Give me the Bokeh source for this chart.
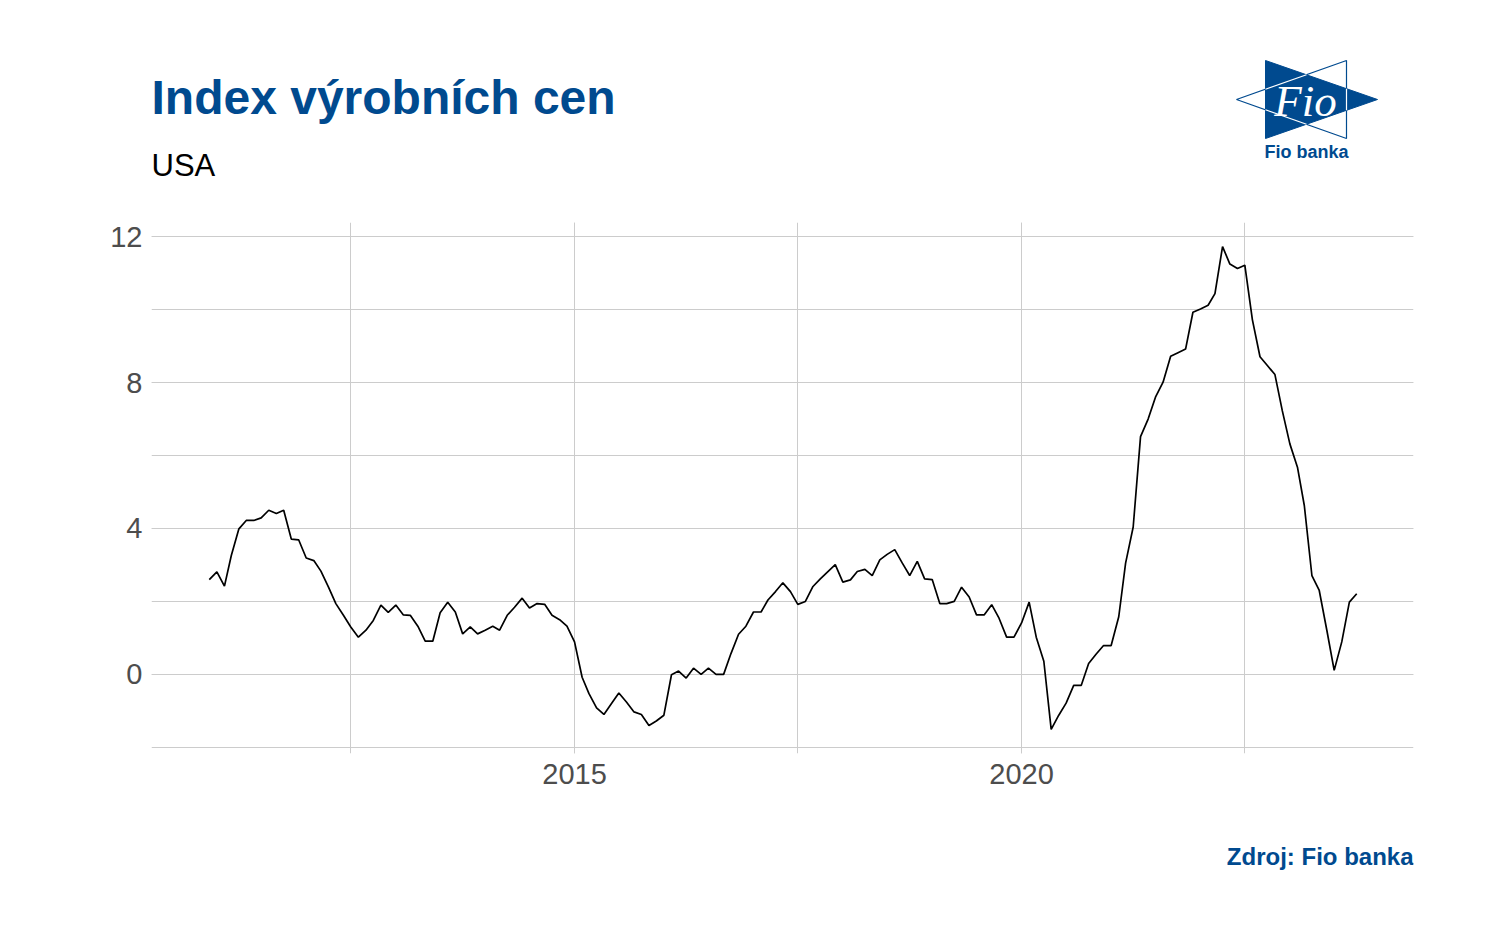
import pandas as pd
from datetime import datetime
from bokeh.plotting import figure
from bokeh.layouts import column
from bokeh.models import ColumnDataSource, Range1d, FixedTicker, DatetimeTickFormatter
from bokeh.core.properties import value
from bokeh.embed import file_html
from bokeh.resources import INLINE

# ---------------- data ----------------
start_month = "2010-12-01"
ppi = [2.60, 2.81, 2.42, 3.26, 3.99, 4.22, 4.22, 4.29, 4.50, 4.41, 4.50, 3.71, 3.69, 3.19, 3.12, 2.83,
       2.39, 1.94, 1.62, 1.30, 1.02, 1.21, 1.48, 1.90, 1.70, 1.90, 1.63, 1.62, 1.32, 0.91, 0.91, 1.69,
       1.98, 1.71, 1.11, 1.30, 1.11, 1.21, 1.32, 1.21, 1.62, 1.84, 2.09, 1.82, 1.94, 1.92, 1.62, 1.50,
       1.32, 0.89, -0.08, -0.53, -0.92, -1.10, -0.80, -0.51, -0.76, -1.03, -1.10, -1.40, -1.28, -1.12,
       -0.01, 0.09, -0.10, 0.17, 0.00, 0.17, 0.00, 0.00, 0.57, 1.10, 1.32, 1.71, 1.71, 2.04, 2.27, 2.51,
       2.27, 1.92, 2.00, 2.41, 2.62, 2.82, 3.01, 2.53, 2.59, 2.82, 2.88, 2.71, 3.14, 3.29, 3.42, 3.05,
       2.71, 3.10, 2.62, 2.60, 1.94, 1.94, 2.00, 2.39, 2.12, 1.63, 1.63, 1.91, 1.54, 1.02, 1.02, 1.41,
       1.98, 1.02, 0.36, -1.51, -1.12, -0.79, -0.30, -0.30, 0.30, 0.56, 0.79, 0.79, 1.58, 3.05, 4.04,
       6.52, 7.00, 7.60, 8.01, 8.72, 8.82, 8.92, 9.93, 10.02, 10.12, 10.44, 11.73, 11.25, 11.13, 11.22,
       9.72, 8.71, 8.47, 8.22, 7.23, 6.32, 5.68, 4.63, 2.71, 2.30, 1.21, 0.11, 0.89, 1.98, 2.21]
dates = pd.date_range(start_month, periods=len(ppi), freq="MS")

y_major = [0, 4, 8, 12]
y_minor = [-2, 0, 2, 4, 6, 8, 10, 12]
x_major_labels = ["2015-01-01", "2020-01-01"]
x_minor = ["2012-07-01", "2015-01-01", "2017-07-01", "2020-01-01", "2022-07-01"]

title_text = "Index výrobních cen"
subtitle_text = "USA"
source_text = "Zdroj: Fio banka"
logo_text = "Fio"
logo_caption = "Fio banka"

BLUE = "#004A8F"
GRID = "#CCCCCC"
W = 1478
HEAD_H, MAIN_H, FOOT_H = 200, 620, 114
FRAME_L, FRAME_R = 151, 1413


def ms(d):
    return pd.Timestamp(d).value // 10**6


def bl(y, size):
    # place the alphabetic baseline at page y
    return y - 0.38 * size


def blank(h):
    f = figure(width=W, height=h, output_backend="svg", toolbar_location=None,
               x_range=Range1d(FRAME_L, FRAME_R), y_range=Range1d(h, 0),
               min_border=0, min_border_left=FRAME_L, min_border_right=W - FRAME_R,
               min_border_top=0, min_border_bottom=0)
    f.axis.visible = False
    f.grid.visible = False
    f.outline_line_color = None
    f.background_fill_color = "white"
    f.border_fill_color = "white"
    return f


# ---------------- header ----------------
head = blank(HEAD_H)
head.text(x=[151], y=[bl(115, 48)], text=[title_text], text_font=value("Liberation Sans"),
          text_font_style="bold", text_font_size="48px", text_color=BLUE, text_baseline="alphabetic")
head.text(x=[151], y=[bl(177, 31)], text=[subtitle_text], text_font=value("Liberation Sans"),
          text_font_size="31px", text_color="black", text_baseline="alphabetic")

# logo: outlined triangle, filled triangle, white crossing lines
O = [(1236, 99), (1346, 60), (1346, 138)]
D = [(1265, 60), (1265, 138), (1377, 99)]
head.patch([x for x, _ in O], [y for _, y in O], fill_color="white", line_color=BLUE, line_width=1.2)
head.patch([x for x, _ in D], [y for _, y in D], fill_color=BLUE, line_color=BLUE, line_width=1)
head.segment(x0=[1265, 1265, 1346], y0=[88.7, 109.3, 88.2], x1=[1306, 1306, 1346], y1=[74.3, 123.7, 109.8],
             line_color="white", line_width=1.2)
head.text(x=[1305], y=[bl(118, 45)], text=[logo_text], text_font=value("Liberation Serif"),
          text_font_style="italic", text_font_size="45px", text_color="white",
          text_baseline="alphabetic", text_align="center")
head.text(x=[1306], y=[bl(158, 18)], text=[logo_caption], text_font=value("Liberation Sans"),
          text_font_style="bold", text_font_size="18px", text_color=BLUE,
          text_baseline="alphabetic", text_align="center")

# ---------------- main chart ----------------
src = ColumnDataSource(dict(date=dates, val=ppi))
p = figure(width=W, height=MAIN_H, output_backend="svg", toolbar_location=None,
           x_axis_type="datetime",
           x_range=Range1d(datetime(2010, 4, 9), datetime(2024, 5, 20)),
           y_range=Range1d(-2.17, 12.39),
           min_border_left=FRAME_L, min_border_right=W - FRAME_R, min_border_top=222 - HEAD_H,
           min_border_bottom=HEAD_H + MAIN_H - 753)
p.background_fill_color = "white"
p.border_fill_color = "white"
p.outline_line_color = None

p.line("date", "val", source=src, line_color="black", line_width=1.7)

p.xaxis.ticker = FixedTicker(ticks=[ms(d) for d in x_major_labels], minor_ticks=[ms(d) for d in x_minor])
p.xaxis.formatter = DatetimeTickFormatter(years="%Y", months="%Y", days="%Y", hours="%Y",
                                          minutes="%Y", seconds="%Y", milliseconds="%Y",
                                          microseconds="%Y", hourmin="%Y", minsec="%Y")
p.yaxis.ticker = FixedTicker(ticks=y_major, minor_ticks=y_minor)
for ax in (p.xaxis, p.yaxis):
    ax.axis_line_color = None
    ax.major_tick_line_color = None
    ax.minor_tick_line_color = None
    ax.major_tick_in = 0
    ax.major_tick_out = 0
    ax.minor_tick_in = 0
    ax.minor_tick_out = 0
    ax.major_label_text_font = "Liberation Sans"
    ax.major_label_text_font_size = "29px"
    ax.major_label_text_color = "#4D4D4D"
p.yaxis.major_label_standoff = 9
p.xaxis.major_label_standoff = 10

for g in (p.xgrid, p.ygrid):
    g.grid_line_color = GRID
    g.grid_line_width = 1
    g.minor_grid_line_color = GRID
    g.minor_grid_line_width = 1

# ---------------- footer ----------------
foot = blank(FOOT_H)
foot.text(x=[1413], y=[bl(865, 24) - HEAD_H - MAIN_H], text=[source_text], text_font=value("Liberation Sans"),
          text_font_style="bold", text_font_size="24px", text_color=BLUE,
          text_baseline="alphabetic", text_align="right")

layout = column(head, p, foot, spacing=0)
open("out.html", "w").write(file_html(layout, INLINE))
